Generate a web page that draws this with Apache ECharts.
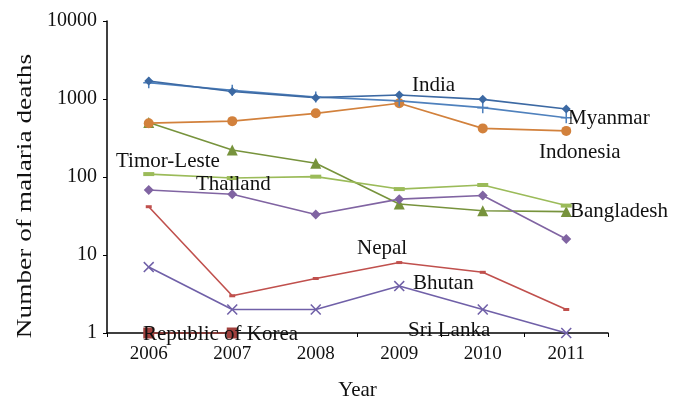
<!DOCTYPE html>
<html>
<head>
<meta charset="utf-8">
<script src="https://cdn.jsdelivr.net/npm/echarts@6/dist/echarts.min.js"></script>
<style>
html,body{margin:0;padding:0;background:#fff;}
#chart{width:684px;height:406px;}
</style>
</head>
<body>
<div id="chart"></div>
<script>
// ---- data ----
var years = ['2006', '2007', '2008', '2009', '2010', '2011'];
var yTicks = [1, 10, 100, 1000, 10000];
var india      = [1700, 1250, 1040, 1125, 990, 745];
var myanmar    = [1620, 1290, 1060, 945, 775, 575];
var indonesia  = [490, 520, 655, 880, 420, 390];
var bangladesh = [500, 222, 150, 45, 37, 36];
var timorLeste = [109, 97, 101, 70, 79, 43];
var thailand   = [68, 60, 33, 52, 58, 16];
var nepal      = [41.6, 3, 5, 8, 6, 2];
var bhutan     = [7, 2, 2, 4, 2, 1];
var korea      = [1, 1, null, null, null, null];
var countryLabels = ['India', 'Myanmar', 'Indonesia', 'Bangladesh', 'Timor-Leste', 'Thailand', 'Nepal', 'Bhutan', 'Sri Lanka', 'Republic of Korea'];

// ---- layout / style ----
var labelPos = {
  'India': [412, 85], 'Myanmar': [568, 118], 'Indonesia': [539, 152],
  'Bangladesh': [570, 211], 'Timor-Leste': [116, 161], 'Thailand': [196, 184],
  'Nepal': [357, 248], 'Bhutan': [413, 283], 'Sri Lanka': [408, 330],
  'Republic of Korea': [143, 334]
};
var SERIF = '"Liberation Serif", "DejaVu Serif", serif';
var plusPath = 'path://M4.3,0h1.4v4.3h4.3v1.4h-4.3v4.3h-1.4v-4.3h-4.3v-1.4h4.3z';
var xPath = 'path://M0,1L1,0L5,4L9,0L10,1L6,5L10,9L9,10L5,6L1,10L0,9L4,5Z';

function line(name, data, color, symbol, size) {
  return {
    name: name, type: 'line', data: data, symbol: symbol, symbolSize: size,
    showAllSymbol: true, clip: false, connectNulls: false,
    lineStyle: {color: color, width: 1.6},
    itemStyle: {color: color},
    emphasis: {disabled: true}, animation: false
  };
}

var chart = echarts.init(document.getElementById('chart'), null, {renderer: 'canvas'});

var graphics = countryLabels.map(function (n) {
  return {
    type: 'text', x: labelPos[n][0], y: labelPos[n][1], z: 100,
    style: {text: n, fontFamily: SERIF, fontSize: 21, fill: '#111', align: 'left', verticalAlign: 'middle'}
  };
});
graphics.push({
  type: 'text', x: 25, y: 196, rotation: Math.PI / 2, scaleX: 1.3, z: 100,
  style: {text: 'Number of malaria deaths', fontFamily: SERIF, fontSize: 21, fill: '#111', align: 'center', verticalAlign: 'middle'}
});

chart.setOption({
  backgroundColor: '#ffffff',
  animation: false,
  grid: {left: 107, right: 76, top: 21, bottom: 73},
  xAxis: {
    type: 'category', data: years, boundaryGap: true,
    name: 'Year', nameLocation: 'middle', nameGap: 47,
    nameTextStyle: {fontFamily: SERIF, fontSize: 21, color: '#111'},
    axisLine: {lineStyle: {color: '#000', width: 1.5}},
    axisTick: {show: true, alignWithLabel: false, length: 4, lineStyle: {color: '#000'}},
    axisLabel: {fontFamily: SERIF, fontSize: 19, color: '#111', margin: 12},
    splitLine: {show: false}
  },
  yAxis: {
    type: 'log', logBase: 10, min: yTicks[0], max: yTicks[yTicks.length - 1],
    axisLine: {show: true, lineStyle: {color: '#000', width: 1.5}},
    axisTick: {show: true, length: 4, lineStyle: {color: '#000'}},
    minorTick: {show: false},
    axisLabel: {fontFamily: SERIF, fontSize: 20, color: '#111', margin: 10,
      formatter: function (v) { return String(Math.round(v)); }},
    splitLine: {show: false}
  },
  graphic: graphics,
  series: [
    line('Bangladesh', bangladesh, '#77933c', 'triangle', 11),
    line('Indonesia', indonesia, '#d2813c', 'circle', 10),
    line('Timor-Leste', timorLeste, '#9bbb59', 'rect', [11, 4]),
    line('Thailand', thailand, '#8064a2', 'diamond', 10),
    line('Nepal', nepal, '#c0504d', 'rect', [6, 3]),
    line('Bhutan', bhutan, '#7060a8', xPath, 11),
    line('Republic of Korea', korea, '#a0403d', 'rect', 11),
    line('Myanmar', myanmar, '#4f81bd', plusPath, 11),
    line('India', india, '#3c69a3', 'diamond', 9)
  ]
});
</script>
</body>
</html>
